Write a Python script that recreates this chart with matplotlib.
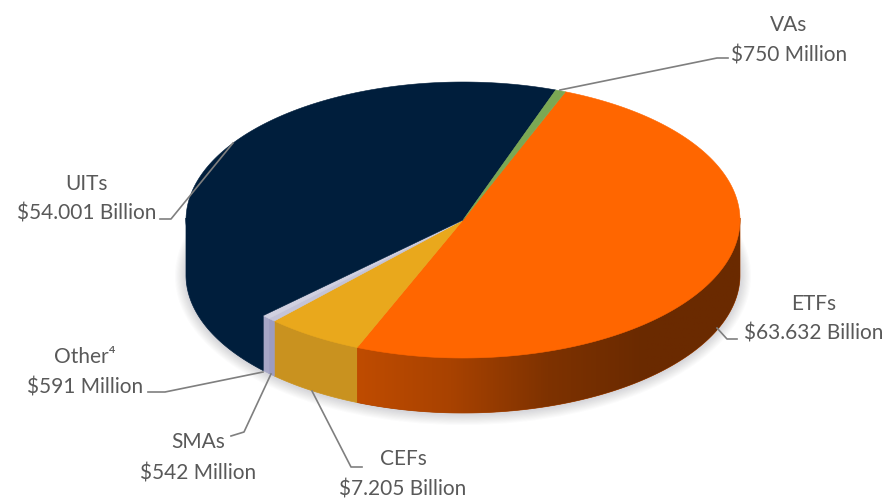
import numpy as np
import matplotlib
matplotlib.use('Agg')
import matplotlib.pyplot as plt
from matplotlib.colors import LinearSegmentedColormap
from matplotlib.patches import Ellipse, Polygon

# assets by product, in billions, clockwise from the top of the pie
products = ['ETFs', 'CEFs', 'SMAs', 'Other', 'UITs', 'VAs']
assets = [63.632, 7.205, 0.542, 0.591, 54.001, 0.750]
top_colors = ['#FF6600', '#E9A81C', '#C4C4D8', '#D0D0E0', '#001E3C', '#7BA854']
side_colors = ['#A84200', '#C9921F', '#9C9CC0', '#A6A6C6', '#001E3C', '#6A9048']

cx, cy = 463, 220
rx, ry = 277, 138
depth = 55
start_angle = -68.3

plt.rcParams['font.family'] = ['Lato', 'DejaVu Sans']

fig = plt.figure(figsize=(8.86, 4.99), dpi=100)
ax = fig.add_axes([0, 0, 1, 1])


def arc(a, b, dy=0):
    t = np.radians(np.linspace(a, b, max(int(abs(b - a) * 2), 2)))
    return np.column_stack([cx + rx * np.cos(t), cy + ry * np.sin(t) + dy])


# soft shadow under the lower rim
for grow in range(1, 11):
    ax.add_patch(Ellipse((cx, cy + depth + 1), 2 * rx + grow * 2.2, 2 * ry + grow * 2.2,
                         fc='#5a5a6a', ec='none', alpha=0.025, zorder=1))

sweeps = np.array(assets) / sum(assets) * 360
edges = start_angle + np.concatenate([[0], np.cumsum(sweeps)])

# outer wall, only the front half of the ellipse shows
# it starts a little above the rim so the top face overlaps it without a seam
for i in range(len(products)):
    a, b = max(edges[i], 0), min(edges[i + 1], 180)
    if b <= a:
        continue
    wall = Polygon(np.vstack([arc(a, b, -2), arc(a, b, depth)[::-1]]),
                   fc=side_colors[i], ec=side_colors[i], lw=0.5, zorder=2)
    ax.add_patch(wall)
    if products[i] == 'ETFs':
        # the orange wall fades to dark towards the right
        cmap = LinearSegmentedColormap.from_list(
            'wall', ['#C04C00', '#A84200', '#7E3200', '#6A2A00', '#6B2A00'])
        grad = ax.imshow(np.linspace(0, 1, 256)[None, :], cmap=cmap, aspect='auto',
                         extent=[355, 740, 420, 200], zorder=3)
        grad.set_clip_path(wall)

# top face
for i in range(len(products)):
    pts = np.vstack([[cx, cy], arc(edges[i], edges[i + 1])])
    ax.add_patch(Polygon(pts, fc=top_colors[i], ec=top_colors[i], lw=0.4, zorder=4))

# leader lines
leaders = [
    [(560, 90), (717, 58), (728, 58)],
    [(717, 328), (727, 339), (737, 339)],
    [(233, 143), (171, 219), (160, 219)],
    [(263, 372), (165, 392), (148, 392)],
    [(271, 374), (244, 432), (231, 436)],
    [(312, 391), (351, 467), (362, 467)],
]
for line in leaders:
    xs, ys = zip(*line)
    ax.plot(xs, ys, color='#7f7f7f', lw=1.2, zorder=5)

# labels
labels = [
    ('VAs', '$750 Million', 789, 25, 55),
    ('ETFs', '$63.632 Billion', 814, 304, 334),
    ('UITs', '$54.001 Billion', 87, 184, 214),
    ('Other\u2074', '$591 Million', 85, 357, 388),
    ('SMAs', '$542 Million', 198, 442, 473),
    ('CEFs', '$7.205 Billion', 403, 459, 489),
]
for name, amount, x, y1, y2 in labels:
    ax.text(x, y1, name, ha='center', va='center', fontsize=15, color='#595959')
    ax.text(x, y2, amount.replace('$', r'\$'), ha='center', va='center', fontsize=15, color='#595959')

ax.set_xlim(0, 886)
ax.set_ylim(499, 0)
ax.axis('off')

fig.savefig('out.png', dpi=100)
